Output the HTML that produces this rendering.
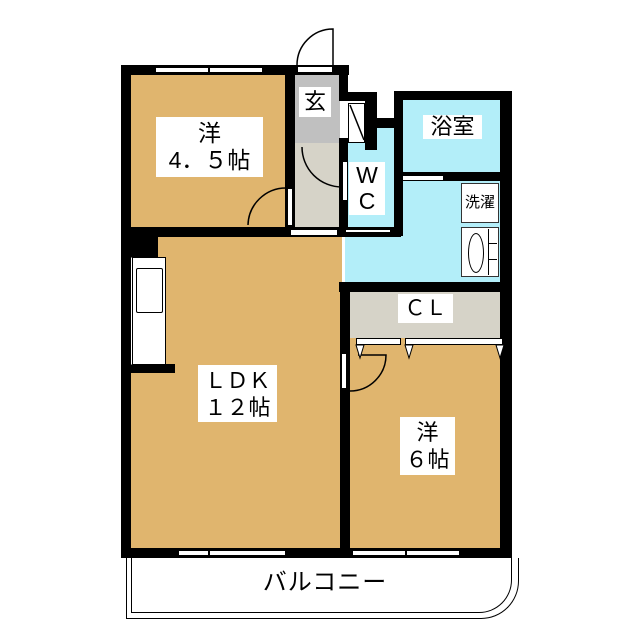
<!DOCTYPE html>
<html><head><meta charset="utf-8"><style>
body{margin:0;width:640px;height:640px;background:#fff;position:relative;overflow:hidden;font-family:"Liberation Sans","Noto Sans CJK JP",sans-serif}
div{position:absolute;box-sizing:border-box}
.w{background:#000}
.o{background:#e0b56e}
.b{background:#b3eef9}
.lbl{background:#fff;color:#000;text-align:center;line-height:1.25}
.win{background:#fff;border:1px solid #000}
</style></head><body>
<div class="o" style="left:130px;top:75px;width:160px;height:155px"></div>
<div style="left:295px;top:73px;width:45px;height:70px;background:#c0c0c0"></div>
<div style="left:295px;top:143px;width:45px;height:87px;background:#d6d3c8"></div>
<div class="b" style="left:348px;top:128px;width:48px;height:102px"></div>
<div class="b" style="left:400px;top:98px;width:102px;height:76px"></div>
<div class="b" style="left:345px;top:174px;width:157px;height:110px"></div>
<div class="o" style="left:130px;top:236px;width:212px;height:314px"></div>
<div style="left:348px;top:290px;width:155px;height:48px;background:#d6d3c8"></div>
<div class="o" style="left:348px;top:338px;width:155px;height:212px"></div>

<div class="w" style="left:121px;top:65px;width:10px;height:493px"></div>
<div class="w" style="left:121px;top:65px;width:228px;height:10px"></div>
<div class="w" style="left:285px;top:65px;width:10px;height:171px"></div>
<div class="w" style="left:339px;top:65px;width:9px;height:36px"></div>
<div class="w" style="left:339px;top:92px;width:38px;height:9px"></div>
<div class="w" style="left:365px;top:92px;width:12px;height:58px"></div>
<div class="w" style="left:339px;top:138px;width:9px;height:98px"></div>
<div class="w" style="left:365px;top:118px;width:37px;height:10px"></div>
<div class="w" style="left:394px;top:92px;width:9px;height:144px"></div>
<div class="w" style="left:394px;top:91px;width:118px;height:9px"></div>
<div class="w" style="left:500px;top:91px;width:12px;height:467px"></div>
<div class="w" style="left:400px;top:172px;width:112px;height:9px"></div>
<div class="w" style="left:121px;top:227px;width:280px;height:10px"></div>
<div class="w" style="left:121px;top:227px;width:37px;height:31px"></div>
<div class="w" style="left:121px;top:364px;width:54px;height:9px"></div>
<div class="w" style="left:339px;top:282px;width:173px;height:10px"></div>
<div class="w" style="left:340px;top:282px;width:10px;height:276px"></div>
<div class="w" style="left:121px;top:548px;width:391px;height:10px"></div>

<div class="win" style="left:155px;top:67px;width:108px;height:6px"></div>
<div class="win" style="left:178px;top:550px;width:108px;height:6px"></div>
<div class="win" style="left:352px;top:550px;width:108px;height:6px"></div>
<div style="left:208px;top:549px;width:1.5px;height:8px;background:#000"></div>
<div style="left:405px;top:549px;width:1.5px;height:8px;background:#000"></div>
<div style="left:208px;top:66px;width:1.5px;height:8px;background:#000"></div>
<div class="win" style="left:297px;top:66px;width:36px;height:7px"></div>
<div class="win" style="left:290px;top:229px;width:48px;height:7px"></div>
<div class="win" style="left:345px;top:229px;width:46px;height:4px"></div>
<div class="win" style="left:402px;top:175px;width:42px;height:6px"></div>
<div class="win" style="left:287px;top:188px;width:6px;height:38px"></div>
<div class="win" style="left:342px;top:161px;width:6px;height:40px"></div>
<div class="win" style="left:341px;top:353px;width:6px;height:36px"></div>
<div class="win" style="left:356px;top:338px;width:45px;height:7px"></div>
<div class="win" style="left:405px;top:338px;width:98px;height:7px"></div>
<div class="win" style="left:348px;top:103px;width:17px;height:40px"></div>

<div style="left:130px;top:257px;width:36px;height:108px;background:#fff;border:1px solid #000;border-left:3px double #000"></div>
<div style="left:136px;top:268px;width:27px;height:45px;border:1.5px solid #000;border-radius:2px"></div>

<div style="left:461px;top:183px;width:38px;height:40px;background:#fff;border:1.5px solid #333;"></div>
<div style="left:461px;top:227px;width:38px;height:50px;background:#fff;border:1.5px solid #333;"></div>
<div style="left:468px;top:233px;width:16px;height:40px;border:1.5px solid #000;border-radius:50%"></div>
<div style="left:488px;top:229px;width:9px;height:46px;border-left:1px solid #000"></div>
<div style="left:488px;top:243px;width:9px;height:17px;border-top:1px solid #000;border-bottom:1px solid #000"></div>

<div style="left:126px;top:558px;width:393px;height:61px;border:1.5px solid #000;border-top:none;border-bottom-right-radius:38px"></div>
<div style="left:131px;top:558px;width:381px;height:55px;border:1.5px solid #000;border-top:none;border-bottom-right-radius:33px"></div>

<svg style="position:absolute;left:0;top:0" width="640" height="640">
 <g fill="none" stroke="#000" stroke-width="1.5">
  <path d="M297 65 A36 36 0 0 1 333 29 L333 65"/>
  <path d="M248 225 A38 38 0 0 1 286 188"/>
  <path d="M302 147 A40 40 0 0 0 342 187"/>
  <line x1="350" y1="105" x2="364" y2="140"/>
  <path d="M350 391 A36 36 0 0 0 386 355 L358 355"/>
  <line x1="403" y1="175" x2="400" y2="160"/>
 </g>
 <g fill="#fff" stroke="#000" stroke-width="1">
  <path d="M356 345 L364 345 L360 358Z"/>
  <path d="M405 345 L413 345 L409 358Z"/>
  <path d="M496 345 L504 345 L500 358Z"/>
 </g>
</svg>

<div class="lbl" style="left:156px;top:117px;width:107px;height:60px;font-size:23px;line-height:27px;padding-top:3px">洋<br>4．５帖</div>
<div class="lbl" style="left:299px;top:87px;width:32px;height:30px;font-size:22px;line-height:30px">玄</div>
<div class="lbl" style="left:423px;top:115px;width:59px;height:24px;font-size:22px;line-height:24px">浴室</div>
<div class="lbl" style="left:349px;top:162px;width:36px;height:53px;font-size:23px;line-height:26px">W<br>C</div>
<div class="lbl" style="left:464px;top:186px;width:32px;height:34px;font-size:15px;line-height:34px">洗濯</div>
<div class="lbl" style="left:398px;top:294px;width:55px;height:29px;font-size:21px;line-height:29px">ＣＬ</div>
<div class="lbl" style="left:198px;top:365px;width:79px;height:57px;font-size:22px;line-height:27px;padding-top:2px">ＬＤＫ<br>１２帖</div>
<div class="lbl" style="left:400px;top:417px;width:55px;height:58px;font-size:22px;line-height:27px;padding-top:2px">洋<br>６帖</div>
<div style="left:240px;top:568px;width:170px;font-size:24px;line-height:30px;text-align:center;letter-spacing:1px">バルコニー</div>
</body></html>
